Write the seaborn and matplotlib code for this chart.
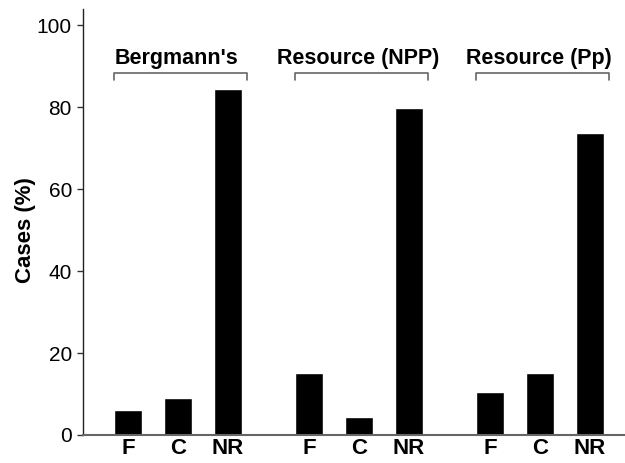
import pandas as pd
import matplotlib
matplotlib.use("Agg")
import matplotlib.pyplot as plt
import seaborn as sns

# values
groups = ["Bergmann's", "Resource (NPP)", "Resource (Pp)"]
outcomes = ["F", "C", "NR"]
bergmann = [6.0, 9.1, 84.5]
resource_npp = [15.2, 4.5, 79.9]
resource_pp = [10.6, 15.2, 73.7]

group_gap = 3.62  # distance between group starts, in bar slots

sns.set_theme(style="white")
plt.rcParams["font.family"] = ["Liberation Sans", "DejaVu Sans"]
plt.rcParams["text.color"] = "black"
plt.rcParams["axes.labelcolor"] = "black"
plt.rcParams["xtick.color"] = "black"
plt.rcParams["ytick.color"] = "black"

rows = []
for g, vals in enumerate([bergmann, resource_npp, resource_pp]):
    for i, (lab, v) in enumerate(zip(outcomes, vals)):
        rows.append({"group": groups[g], "outcome": lab,
                     "pos": g * group_gap + i, "pct": v})
df = pd.DataFrame(rows)

fig = plt.figure(figsize=(6.25, 4.63), dpi=100)
ax = fig.add_axes([0.1328, 0.0605, 0.8672, 0.9201])

sns.barplot(data=df, x="pos", y="pct", native_scale=True, width=0.56,
            color="black", saturation=1, errorbar=None, ax=ax)

ax.set_xlim(-0.9, 9.94)
ax.set_ylim(0, 104)
ax.set_yticks([0, 20, 40, 60, 80, 100])
ax.tick_params(axis="y", labelsize=15, length=4, width=1, direction="out",
               left=True, color="#333333", pad=4)
ax.set_xticks(df["pos"])
ax.set_xticklabels(df["outcome"], fontsize=16, fontweight="bold")
ax.tick_params(axis="x", length=0, pad=2)
ax.set_xlabel("")
ax.set_ylabel("Cases (%)", fontsize=16, fontweight="bold")
ax.yaxis.set_label_coords(-0.087, 0.48)

for side in ["top", "right"]:
    ax.spines[side].set_visible(False)
ax.spines["left"].set_color("#222222")
ax.spines["bottom"].set_color("#666666")
ax.spines["left"].set_linewidth(1)
ax.spines["bottom"].set_linewidth(1.5)

# group brackets and labels
for g, name in enumerate(groups):
    x0 = g * group_gap - 0.29
    x1 = g * group_gap + 2.37
    ax.plot([x0, x0, x1, x1], [86.6, 88.3, 88.3, 86.6], color="#666666",
            lw=1.2, clip_on=False)
    ax.text((x0 + x1) / 2 - 0.06, 92.0, name, ha="center", va="center",
            fontsize=15.5, fontweight="bold")

fig.savefig("out.png", dpi=100)
